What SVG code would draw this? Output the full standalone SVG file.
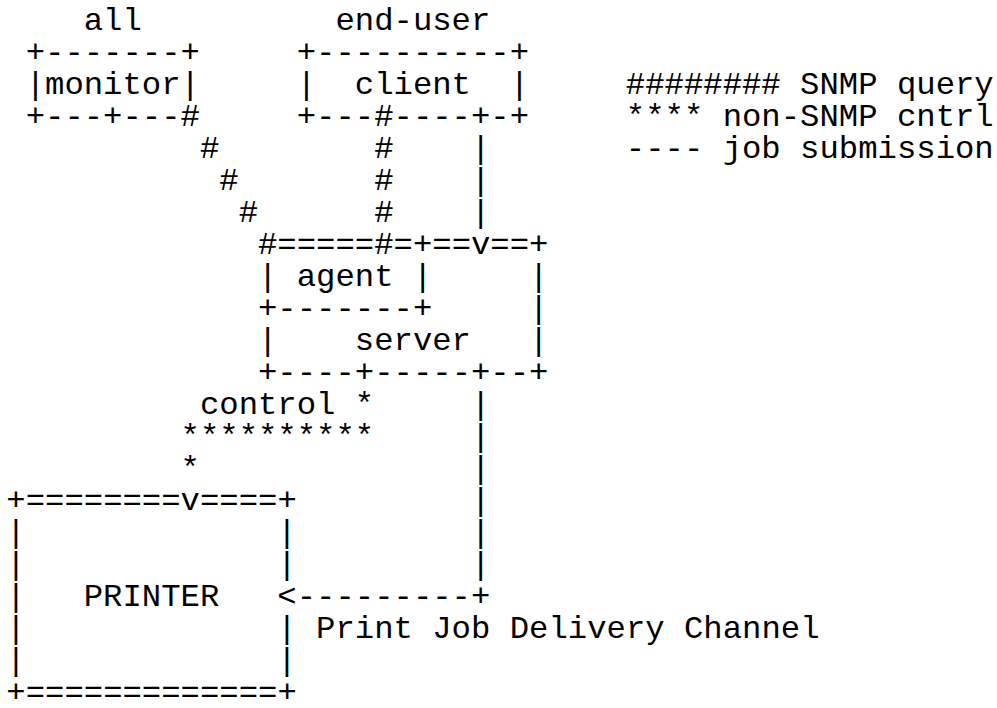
<svg xmlns="http://www.w3.org/2000/svg" width="997" height="708" viewBox="0 0 997 708">
<style>
text{font-family:"Liberation Mono","Courier New",monospace;font-size:32.27px;fill:#000;white-space:pre}
</style>
<rect width="997" height="708" fill="#fff"/>
<g id="monitor">
<text x="83.76" y="30">all</text>
<text x="25.68" y="62">+-------+</text>
<text x="25.68" y="94">|monitor|</text>
<text x="25.68" y="126">+---+---#</text>
</g>
<g id="client">
<text x="335.44" y="30">end-user</text>
<text x="296.72" y="62">+----------+</text>
<text x="296.72" y="94">|</text>
<text x="354.8" y="94">client</text>
<text x="509.68" y="94">|</text>
<text x="296.72" y="126">+---#----+-+</text>
</g>
<g id="legend">
<text x="625.84" y="94">######## SNMP query</text>
<text x="625.84" y="126">**** non-SNMP cntrl</text>
<text x="625.84" y="158">---- job submission</text>
</g>
<g id="server">
<text x="258" y="254">#=====#=+==v==+</text>
<text x="258" y="286">|</text>
<text x="296.72" y="286">agent</text>
<text x="412.88" y="286">|</text>
<text x="529.04" y="286">|</text>
<text x="258" y="318">+-------+</text>
<text x="529.04" y="318">|</text>
<text x="258" y="350">|</text>
<text x="354.8" y="350">server</text>
<text x="529.04" y="350">|</text>
<text x="258" y="382">+----+-----+--+</text>
</g>
<g id="printer">
<text x="6.32" y="510">+========v====+</text>
<text x="6.32" y="542">|</text><text x="277.36" y="542">|</text>
<text x="6.32" y="574">|</text><text x="277.36" y="574">|</text>
<text x="6.32" y="606">|</text>
<text x="83.76" y="606">PRINTER</text>
<text x="6.32" y="638">|</text><text x="277.36" y="638">|</text>
<text x="6.32" y="670">|</text><text x="277.36" y="670">|</text>
<text x="6.32" y="702">+=============+</text>
</g>
<g id="connectors">
<text x="199.92" y="158">#</text>
<text x="219.28" y="190">#</text>
<text x="238.64" y="222">#</text>
<text x="374.16" y="158">#</text>
<text x="374.16" y="190">#</text>
<text x="374.16" y="222">#</text>
<text x="470.96" y="158">|</text>
<text x="470.96" y="190">|</text>
<text x="470.96" y="222">|</text>
<text x="199.92" y="414">control *</text>
<text x="180.56" y="446">**********</text>
<text x="180.56" y="478">*</text>
<text x="470.96" y="414">|</text>
<text x="470.96" y="446">|</text>
<text x="470.96" y="478">|</text>
<text x="470.96" y="510">|</text>
<text x="470.96" y="542">|</text>
<text x="470.96" y="574">|</text>
<text x="277.36" y="606">&lt;---------+</text>
<text x="316.08" y="638">Print Job Delivery Channel</text>
</g>
</svg>
